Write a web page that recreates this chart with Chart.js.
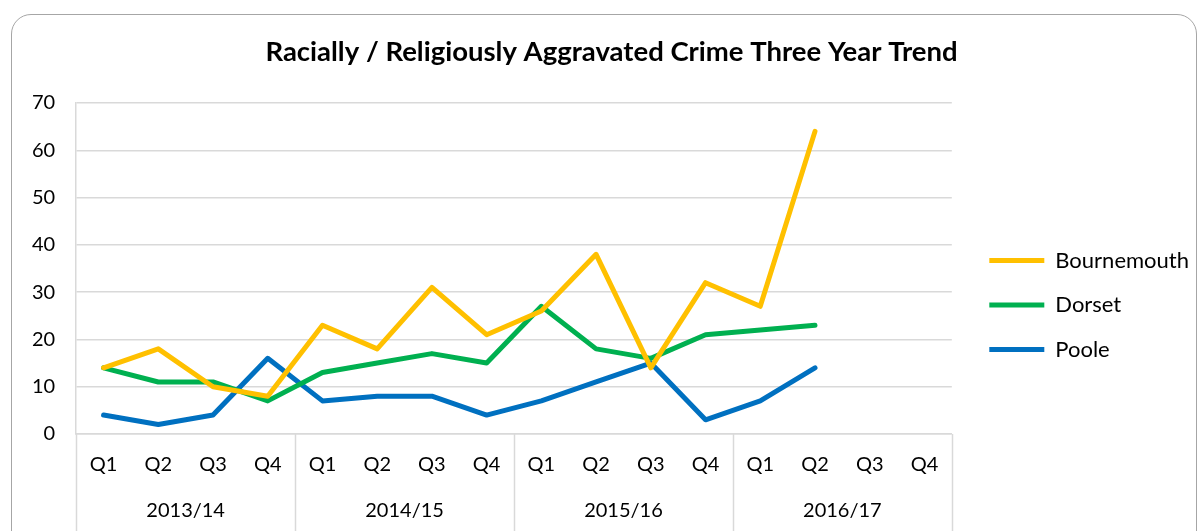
<!DOCTYPE html>
<html>
<head>
<meta charset="utf-8">
<script src="https://cdn.jsdelivr.net/npm/chart.js@4/dist/chart.umd.min.js"></script>
<style>
  html, body { margin: 0; padding: 0; background: #fff; overflow: hidden; }
  #wrap { position: relative; width: 1200px; height: 531px; }
  #frame {
    position: absolute; left: 11px; top: 14px; width: 1186px; height: 560px;
    border: 1.3px solid #a6a6a6; border-radius: 20px; box-sizing: border-box;
  }
  #cv { position: absolute; left: 0; top: 0; }
</style>
</head>
<body>
<div id="wrap">
  <div id="frame"></div>
  <canvas id="cv" width="1200" height="531"></canvas>
</div>
<script>
// Quarterly counts of racially / religiously aggravated crime
const quarters = ['Q1', 'Q2', 'Q3', 'Q4', 'Q1', 'Q2', 'Q3', 'Q4', 'Q1', 'Q2', 'Q3', 'Q4', 'Q1', 'Q2', 'Q3', 'Q4'];
const years = ['2013/14', '2014/15', '2015/16', '2016/17'];
const bournemouth = [14, 18, 10, 8, 23, 18, 31, 21, 26, 38, 14, 32, 27, 64, null, null];
const dorset = [14, 11, 11, 7, 13, 15, 17, 15, 27, 18, 16, 21, 22, 23, null, null];
const poole = [4, 2, 4, 16, 7, 8, 8, 4, 7, 11, 15, 3, 7, 14, null, null];
const yTicks = [0, 10, 20, 30, 40, 50, 60, 70];

const FONT = "Lato, 'Open Sans', sans-serif";
const GRID = '#d9d9d9';

function series(label, data, color) {
  return {
    label, data,
    borderColor: color, backgroundColor: color,
    borderWidth: 5, borderCapStyle: 'round', borderJoinStyle: 'round',
    pointRadius: 0, pointHoverRadius: 0, tension: 0, fill: false,
    pointStyle: 'line'
  };
}

// Vertical separators between the financial years under the category axis
const yearSeparators = {
  id: 'yearSeparators',
  afterDraw(chart) {
    const x = chart.scales.x;
    const ctx = chart.ctx;
    const n = quarters.length;
    const step = (x.getPixelForValue(n - 1) - x.getPixelForValue(0)) / (n - 1);
    ctx.save();
    ctx.strokeStyle = GRID;
    ctx.lineWidth = 1.5;
    for (let g = 0; g <= years.length; g++) {
      const px = Math.round(x.getPixelForValue(g * 4) - step / 2) + 0.5;
      ctx.beginPath();
      ctx.moveTo(px, chart.chartArea.bottom);
      ctx.lineTo(px, chart.height);
      ctx.stroke();
    }
    ctx.restore();
  }
};

// Nudge the title and legend blocks into place
const blockShift = {
  id: 'blockShift',
  afterLayout(chart) {
    const lg = chart.legend;
    lg.top += 24; lg.bottom += 24;
    lg.left += 15; lg.right += 15;
    const t = chart.titleBlock;
    t.left += 14; t.right += 14;
  }
};

const hiddenGrid = { display: true, color: 'rgba(0,0,0,0)', drawOnChartArea: false, drawTicks: false };

new Chart(document.getElementById('cv'), {
  type: 'line',
  data: {
    labels: quarters,
    datasets: [
      series('Bournemouth', bournemouth, '#FFC000'),
      series('Dorset', dorset, '#00B050'),
      series('Poole', poole, '#0070C0')
    ]
  },
  options: {
    responsive: false,
    animation: false,
    events: [],
    layout: { padding: { left: 11, right: 16, top: 36, bottom: 5 } },
    plugins: {
      title: {
        display: true,
        text: 'Racially / Religiously Aggravated Crime Three Year Trend',
        color: '#000',
        font: { family: FONT, size: 27.5, weight: 'bold' },
        padding: { top: 0, bottom: 34 }
      },
      legend: {
        position: 'right',
        labels: {
          usePointStyle: true,
          pointStyleWidth: 55,
          color: '#000',
          font: { family: FONT, size: 22 },
          padding: 22.5
        }
      },
      tooltip: { enabled: false }
    },
    scales: {
      x: {
        offset: true,
        grid: hiddenGrid,
        border: { display: true, color: GRID, width: 1.5 },
        ticks: { color: '#000', font: { family: FONT, size: 20 }, padding: 19, maxRotation: 0, autoSkip: false }
      },
      x2: {
        type: 'category',
        labels: years,
        offset: true,
        position: 'bottom',
        grid: hiddenGrid,
        border: { display: false },
        ticks: { color: '#000', font: { family: FONT, size: 20 }, padding: 3, maxRotation: 0 }
      },
      y: {
        min: 0, max: 70,
        afterBuildTicks(scale) { scale.ticks = yTicks.map(v => ({ value: v })); },
        grid: { color: GRID, lineWidth: 1.5, drawTicks: false },
        border: { display: true, color: GRID, width: 1.5 },
        ticks: { color: '#000', font: { family: FONT, size: 20 }, padding: 21 }
      }
    }
  },
  plugins: [yearSeparators, blockShift]
});
</script>
</body>
</html>
